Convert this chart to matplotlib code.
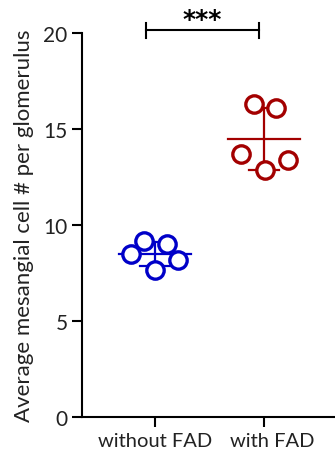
import matplotlib
matplotlib.use("Agg")
import matplotlib.pyplot as plt
import matplotlib.transforms as mtransforms
import numpy as np

# data
groups = ["without FAD", "with FAD"]
without_fad = [8.49, 9.17, 9.01, 8.18, 7.66]
with_fad = [16.30, 16.09, 13.70, 13.39, 12.86]
# horizontal jitter of each point (category units)
without_fad_x = [-0.22, -0.10, 0.11, 0.21, 0.00]
with_fad_x = [-0.09, 0.11, -0.21, 0.22, 0.01]
colors = ["#0000C8", "#A30000"]
yticks = [0, 5, 10, 15, 20]
sig_label = "***"

plt.rcParams['font.family'] = ['Lato', 'DejaVu Sans']

fig = plt.figure(figsize=(3.35, 4.56), dpi=100)
ax = fig.add_axes([0.245, 0.0833, 0.755, 0.842])

series = [without_fad, with_fad]
offsets = [without_fad_x, with_fad_x]
for i, (vals, dx, c) in enumerate(zip(series, offsets, colors)):
    vals = np.array(vals)
    xs = i + np.array(dx)
    m = vals.mean()
    sd = vals.std(ddof=1)
    # mean line
    ax.plot([i - 0.33, i + 0.33], [m, m], color=c, lw=1.6, zorder=2)
    # sd whisker
    ax.plot([i, i], [m - sd, m + sd], color=c, lw=1.6, zorder=2)
    ax.plot([i - 0.14, i + 0.14], [m - sd, m - sd], color=c, lw=1.6, zorder=2)
    ax.plot([i - 0.14, i + 0.14], [m + sd, m + sd], color=c, lw=1.6, zorder=2)
    ax.plot(xs, vals, 'o', ms=12.5, mfc='white', mec=c, mew=2.4, zorder=3,
            clip_on=False)

ax.set_xlim(-0.67, 1.65)
ax.set_ylim(0, 20)
ax.set_yticks(yticks)
ax.set_xticks(range(len(groups)))
ax.set_xticklabels(groups)

for s in ['top', 'right']:
    ax.spines[s].set_visible(False)
for s in ['left', 'bottom']:
    ax.spines[s].set_linewidth(1.5)
ax.tick_params(axis='both', width=1.5, length=7.5, labelsize=15,
               colors='black', labelcolor='#222222')
ax.tick_params(axis='y', pad=3)
ax.tick_params(axis='x', pad=3, labelsize=14.5)

# second category label sits a little right of its tick in the original
lbl = ax.get_xticklabels()[1]
lbl.set_transform(lbl.get_transform() +
                  mtransforms.ScaledTranslation(8 / 100, 0, fig.dpi_scale_trans))

ax.set_ylabel("Average mesangial cell # per glomerulus", fontsize=16,
              color='#222222', labelpad=7)

# significance bar
ybar = 20.15
x0, x1 = -0.08, 0.95
ax.plot([x0, x1], [ybar, ybar], color='black', lw=1.5, clip_on=False)
for xe in [x0, x1]:
    ax.plot([xe, xe], [ybar - 0.4, ybar + 0.4], color='black', lw=1.5,
            clip_on=False)
ax.text((x0 + x1) / 2, ybar + 0.6, sig_label, ha='center', va='center',
        fontsize=18, fontweight='bold', color='black',
        family=['DejaVu Sans'])

fig.savefig("out.png", dpi=100)
